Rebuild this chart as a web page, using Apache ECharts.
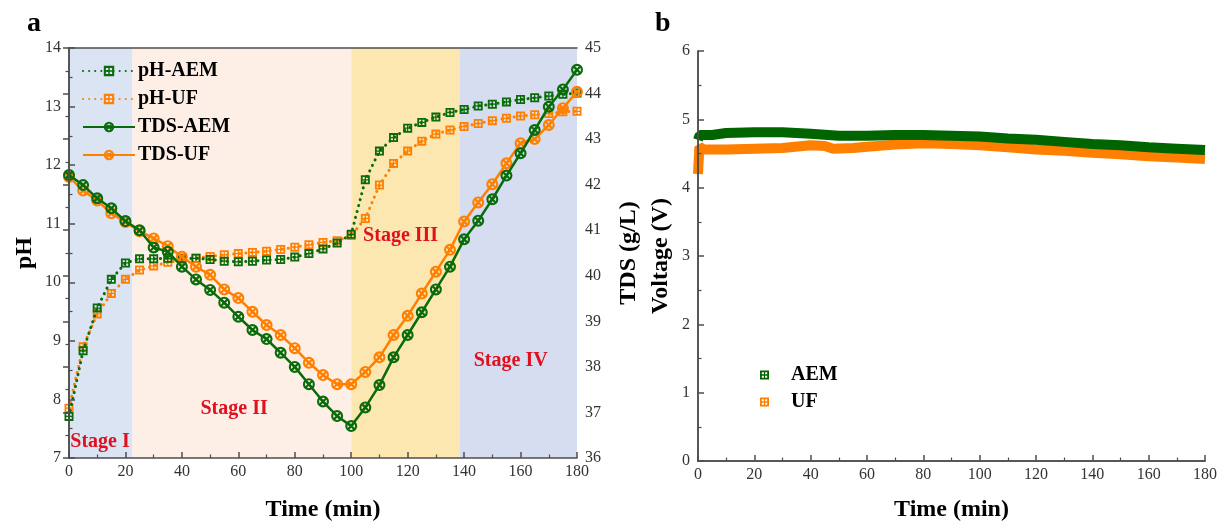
<!DOCTYPE html>
<html>
<head>
<meta charset="utf-8">
<script src="https://cdn.jsdelivr.net/npm/echarts@6/dist/echarts.min.js"></script>
<style>
  html, body { margin: 0; padding: 0; background: #fff; }
  #chart { width: 1217px; height: 523px; }
</style>
</head>
<body>
<div id="chart"></div>
<script>
// ---- data -------------------------------------------------------------
// sampling times (min) for pH and TDS
const timeSteps = [0,5,10,15,20,25,30,35,40,45,50,55,60,65,70,75,80,85,90,
  95,100,105,110,115,120,125,130,135,140,145,150,155,160,165,170,175,180];

const phAEM = [7.71,8.83,9.56,10.05,10.33,10.40,10.40,10.41,10.41,10.41,10.39,
  10.36,10.35,10.36,10.38,10.39,10.43,10.49,10.57,10.67,10.82,11.75,12.24,12.47,
  12.63,12.73,12.82,12.90,12.95,13.01,13.04,13.08,13.12,13.15,13.18,13.21,13.23];

const phUF = [7.85,8.90,9.46,9.81,10.05,10.21,10.28,10.34,10.38,10.41,10.44,
  10.47,10.49,10.51,10.53,10.56,10.60,10.64,10.68,10.71,10.80,11.09,11.66,12.03,
  12.24,12.41,12.53,12.60,12.66,12.71,12.76,12.80,12.84,12.86,12.88,12.91,12.92];

const tdsAEM = [42.21,41.99,41.70,41.48,41.20,41.00,40.62,40.53,40.20,39.92,39.69,
  39.41,39.10,38.81,38.61,38.31,38.00,37.62,37.24,36.92,36.70,37.11,37.60,38.21,
  38.70,39.20,39.70,40.20,40.80,41.21,41.68,42.20,42.69,43.20,43.71,44.09,44.52];

const tdsUF = [42.17,41.87,41.65,41.37,41.18,40.98,40.82,40.65,40.42,40.20,40.02,
  39.70,39.51,39.21,38.92,38.70,38.41,38.09,37.82,37.62,37.62,37.89,38.21,38.70,
  39.12,39.61,40.09,40.57,41.19,41.61,42.01,42.47,42.91,43.00,43.31,43.68,44.04];

// process stages (min)
const stageNames = ['Stage I', 'Stage II', 'Stage III', 'Stage IV'];
const stageStart = [0, 22.5, 100, 138.5];
const stageEnd = [22.5, 100, 138.5, 180];
const stageLabelTime = [11, 58.5, 117.5, 156.5];
const stageLabelPH = [7.27, 7.84, 10.8, 8.66];

// cell voltage (V)
const voltTimeAEM = [0,0.6,5,10,20,30,40,50,60,70,80,90,100,110,120,130,140,150,160,170,180];
const voltAEM = [4.70,4.77,4.77,4.80,4.81,4.81,4.79,4.76,4.76,4.77,4.77,4.76,4.75,
  4.72,4.70,4.67,4.64,4.62,4.59,4.57,4.55];
const voltTimeUF = [0,0.5,2,10,20,30,40,45,48,55,60,70,80,90,100,110,120,130,140,150,160,170,180];
const voltUF = [4.20,4.60,4.56,4.56,4.57,4.58,4.62,4.61,4.57,4.58,4.60,4.63,4.65,
  4.64,4.62,4.59,4.56,4.54,4.51,4.49,4.46,4.44,4.42];

// ---- styling ----------------------------------------------------------
const SERIF = '"Liberation Serif", "Times New Roman", "DejaVu Serif", serif';
const GREEN = '#0a6b0a';
const ORANGE = '#ff8000';
const AXIS = '#4d4d4d';
const RED = '#e0101f';
const stageColors = ['#dae4f3', '#fdeee6', '#fde7b1', '#d6ddf0'];

// square with a 2x2 grid of holes, and a ring crossed by an X
const SQ = 'path://M0,0L10,0L10,10L0,10Z M2,2L2,4.3L4.3,4.3L4.3,2Z M5.7,2L5.7,4.3L8,4.3L8,2Z M2,5.7L2,8L4.3,8L4.3,5.7Z M5.7,5.7L5.7,8L8,8L8,5.7Z';
const XO = 'path://M0,5A5,5 0 1,1 10,5A5,5 0 1,1 0,5Z M1.8,5A3.2,3.2 0 1,0 8.2,5A3.2,3.2 0 1,0 1.8,5Z M1.2,2.5L2.5,1.2L8.8,7.5L7.5,8.8Z M7.5,1.2L8.8,2.5L2.5,8.8L1.2,7.5Z';

const zip = (xs, ys) => xs.map((x, i) => [x, ys[i]]);

function axisCommon(extra) {
  return Object.assign({
    type: 'value',
    z: 10,
    splitLine: { show: false },
    axisLine: { show: true, lineStyle: { color: AXIS, width: 1.5 } },
    axisTick: { show: true, inside: true, length: 6, lineStyle: { color: AXIS, width: 1.5 } },
    minorTick: { show: true, splitNumber: 2, length: 3.5, lineStyle: { color: AXIS, width: 1.2 } },
    axisLabel: { color: '#333', fontFamily: SERIF, fontSize: 16, margin: 8 },
    nameTextStyle: { color: '#000', fontFamily: SERIF, fontSize: 24, fontWeight: 'bold' }
  }, extra);
}
function frameAxis(extra) {
  return Object.assign({
    type: 'value', z: 10,
    splitLine: { show: false },
    axisLine: { show: true, lineStyle: { color: AXIS, width: 1.5 } },
    axisTick: { show: false }, axisLabel: { show: false }
  }, extra);
}
const xLabel = { color: '#333', fontFamily: SERIF, fontSize: 16, margin: 6 };

const option = {
  animation: false,
  backgroundColor: '#fff',
  grid: [
    { left: 69, right: 640, top: 48, bottom: 65, outerBoundsMode: 'none', containLabel: false },
    { left: 698, right: 12, top: 51, bottom: 62, outerBoundsMode: 'none', containLabel: false }
  ],
  graphic: [
    { type: 'text', x: 27, y: 24, style: { text: 'a', font: 'bold 28px ' + SERIF, fill: '#000', verticalAlign: 'middle' } },
    { type: 'text', x: 655, y: 24, style: { text: 'b', font: 'bold 28px ' + SERIF, fill: '#000', verticalAlign: 'middle' } }
  ],
  legend: [
    {
      data: ['pH-AEM', 'pH-UF', 'TDS-AEM', 'TDS-UF'],
      orient: 'vertical', left: 82, top: 61, padding: 0,
      itemWidth: 52, itemHeight: 13, itemGap: 8,
      selectedMode: false,
      textStyle: { fontFamily: SERIF, fontSize: 20, fontWeight: 'bold', color: '#000', padding: [0, 0, 0, -2] }
    },
    {
      data: [{ name: 'AEM', icon: SQ }, { name: 'UF', icon: SQ }],
      orient: 'vertical', left: 760, top: 365, padding: 0,
      itemWidth: 9, itemHeight: 9, itemGap: 7,
      selectedMode: false,
      textStyle: { fontFamily: SERIF, fontSize: 20, fontWeight: 'bold', color: '#000', padding: [0, 0, 0, 17] }
    }
  ],
  xAxis: [
    axisCommon({ gridIndex: 0, min: 0, max: 180, interval: 20, name: 'Time (min)',
      nameLocation: 'middle', nameGap: 40, axisLabel: xLabel }),
    frameAxis({ gridIndex: 0, position: 'top', min: 0, max: 180 }),
    axisCommon({ gridIndex: 1, min: 0, max: 180, interval: 20, name: 'Time (min)',
      nameLocation: 'middle', nameGap: 37, axisLabel: xLabel }),
    frameAxis({ gridIndex: 1, position: 'top', min: 0, max: 180 })
  ],
  yAxis: [
    axisCommon({ gridIndex: 0, min: 7, max: 14, interval: 1, name: 'pH',
      nameLocation: 'middle', nameGap: 32, nameRotate: 90 }),
    axisCommon({ gridIndex: 0, position: 'right', min: 36, max: 45, interval: 1, name: 'TDS (g/L)',
      nameLocation: 'middle', nameGap: 40, nameRotate: 90 }),
    axisCommon({ gridIndex: 1, min: 0, max: 6, interval: 1, name: 'Voltage (V)',
      nameLocation: 'middle', nameGap: 25, nameRotate: 90 }),
    frameAxis({ gridIndex: 1, position: 'right', min: 0, max: 6 })
  ],
  series: [
    {
      // shaded stage bands
      type: 'line', name: 'stages', xAxisIndex: 0, yAxisIndex: 0, data: [], z: 1,
      markArea: {
        silent: true,
        data: stageNames.map((n, i) => [
          { xAxis: stageStart[i], itemStyle: { color: stageColors[i] } },
          { xAxis: stageEnd[i] }
        ])
      }
    },
    {
      name: 'pH-AEM', type: 'line', xAxisIndex: 0, yAxisIndex: 0, z: 4,
      data: zip(timeSteps, phAEM),
      symbol: SQ, symbolSize: 9, showAllSymbol: true,
      itemStyle: { color: GREEN },
      lineStyle: { color: GREEN, width: 3, type: [0.1, 6], cap: 'round' }
    },
    {
      name: 'pH-UF', type: 'line', xAxisIndex: 0, yAxisIndex: 0, z: 3,
      data: zip(timeSteps, phUF),
      symbol: SQ, symbolSize: 9, showAllSymbol: true,
      itemStyle: { color: ORANGE },
      lineStyle: { color: ORANGE, width: 3, type: [0.1, 6], cap: 'round' }
    },
    {
      name: 'TDS-AEM', type: 'line', xAxisIndex: 0, yAxisIndex: 1, z: 6,
      data: zip(timeSteps, tdsAEM),
      symbol: XO, symbolSize: 12, showAllSymbol: true,
      itemStyle: { color: GREEN },
      lineStyle: { color: GREEN, width: 2.5 }
    },
    {
      name: 'TDS-UF', type: 'line', xAxisIndex: 0, yAxisIndex: 1, z: 5,
      data: zip(timeSteps, tdsUF),
      symbol: XO, symbolSize: 12, showAllSymbol: true,
      itemStyle: { color: ORANGE },
      lineStyle: { color: ORANGE, width: 2.5 }
    },
    {
      // stage captions
      type: 'scatter', name: 'stageText', xAxisIndex: 0, yAxisIndex: 0, z: 7,
      symbolSize: 0, itemStyle: { color: RED }, silent: true,
      data: stageNames.map((n, i) => ({ name: n, value: [stageLabelTime[i], stageLabelPH[i]] })),
      label: {
        show: true, position: 'inside', formatter: p => p.name,
        fontFamily: SERIF, fontSize: 20, fontWeight: 'bold', color: RED,
        textBorderWidth: 0, opacity: 1
      }
    },
    {
      name: 'AEM', type: 'line', xAxisIndex: 2, yAxisIndex: 2, z: 4,
      data: zip(voltTimeAEM, voltAEM), showSymbol: false,
      itemStyle: { color: '#006400' },
      lineStyle: { color: '#006400', width: 10, join: 'bevel' }
    },
    {
      name: 'UF', type: 'line', xAxisIndex: 2, yAxisIndex: 2, z: 3,
      data: zip(voltTimeUF, voltUF), showSymbol: false,
      itemStyle: { color: '#ff7f00' },
      lineStyle: { color: '#ff7f00', width: 10, join: 'bevel' }
    }
  ]
};

const chart = echarts.init(document.getElementById('chart'), null, { renderer: 'canvas' });
chart.setOption(option);
</script>
</body>
</html>
